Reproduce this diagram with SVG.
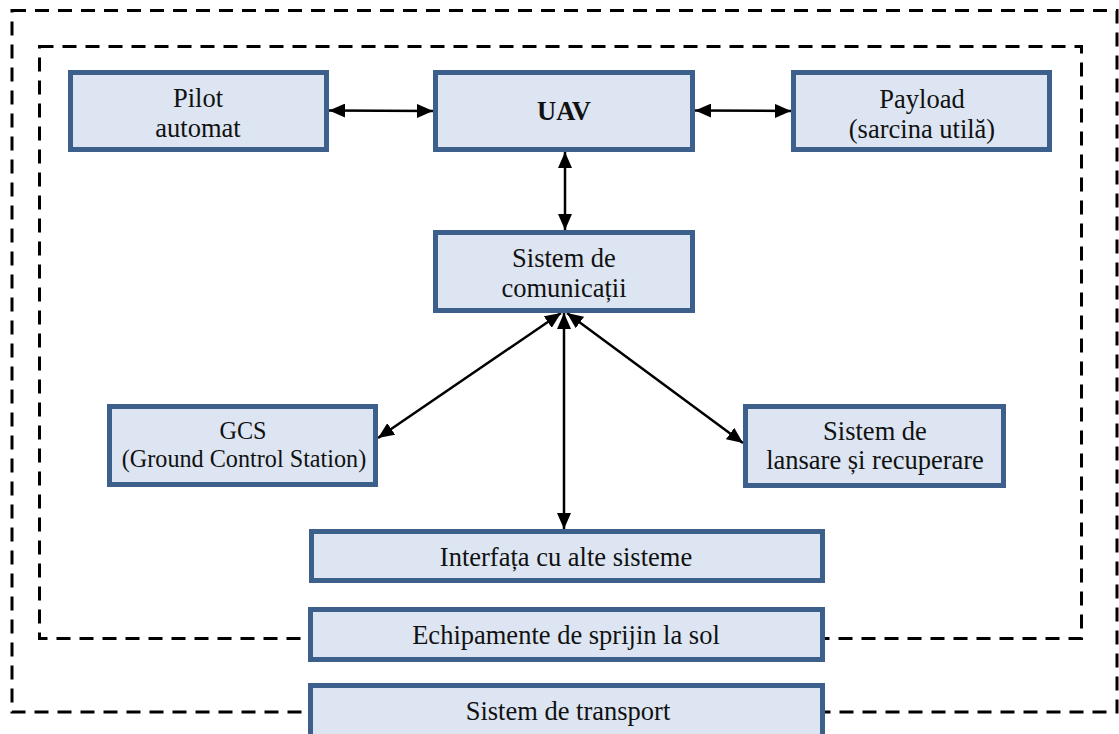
<svg xmlns="http://www.w3.org/2000/svg" width="1119" height="734" viewBox="0 0 1119 734">
<defs>
<style>
.dash{fill:none;stroke:#000;stroke-width:3;stroke-dasharray:14 9}
.box{fill:#dce5f1;stroke:#3d5f8c;stroke-width:5}
.t{font-family:"Liberation Serif","Times New Roman",serif;font-size:26.5px;fill:#111;text-anchor:middle}
.s{font-size:24.2px}
.b{font-weight:bold}
.c{fill:none;stroke:#000;stroke-width:2.5;marker-start:url(#ah);marker-end:url(#ah)}
</style>
<marker id="ah" viewBox="0 0 16 14" refX="16" refY="7" markerWidth="16" markerHeight="14" markerUnits="userSpaceOnUse" orient="auto-start-reverse">
<path d="M0,0 L16,7 L0,14 z" fill="#000"/>
</marker>
</defs>
<rect id="frame-outer" class="dash" x="12" y="10.5" width="1105" height="701.5"/>
<rect id="frame-inner" class="dash" x="39.5" y="46.5" width="1042" height="592"/>
<g id="connectors">
<line class="c" x1="329" y1="110.5" x2="433" y2="111"/>
<line class="c" x1="695" y1="110.5" x2="791" y2="111"/>
<line class="c" x1="565" y1="152" x2="565" y2="230"/>
<line class="c" x1="561" y1="313" x2="378" y2="438"/>
<line class="c" x1="567" y1="313" x2="743" y2="443"/>
<line class="c" x1="564" y1="313" x2="564" y2="529"/>
</g>
<g id="pilot"><rect class="box" x="70.5" y="72.5" width="256" height="77"/><text class="t" x="198" y="107">Pilot</text><text class="t" x="198" y="137">automat</text></g>
<g id="uav"><rect class="box" x="435.5" y="72.5" width="257" height="77"/><text class="t b" x="564" y="120">UAV</text></g>
<g id="payload"><rect class="box" x="793.5" y="72.5" width="256" height="77"/><text class="t" x="922" y="108">Payload</text><text class="t" x="922" y="138">(sarcina utilă)</text></g>
<g id="comm"><rect class="box" x="435.5" y="232.5" width="257" height="78"/><text class="t" x="564" y="267">Sistem de</text><text class="t" x="564" y="297">comunicații</text></g>
<g id="gcs"><rect class="box" x="109.5" y="406.5" width="266" height="78"/><text class="t s" x="243" y="439">GCS</text><text class="t s" x="244" y="467">(Ground Control Station)</text></g>
<g id="lansare"><rect class="box" x="745.5" y="406.5" width="258" height="79"/><text class="t" x="875" y="440">Sistem de</text><text class="t" x="875" y="469">lansare și recuperare</text></g>
<g id="interfata"><rect class="box" x="311.5" y="531.5" width="511" height="49"/><text class="t" x="566" y="566">Interfața cu alte sisteme</text></g>
<g id="echipamente"><rect class="box" x="310.5" y="609.5" width="512" height="50"/><text class="t" x="566" y="644">Echipamente de sprijin la sol</text></g>
<g id="transport"><rect class="box" x="310.5" y="685.5" width="512" height="52"/><text class="t" x="568" y="720">Sistem de transport</text></g>
</svg>
